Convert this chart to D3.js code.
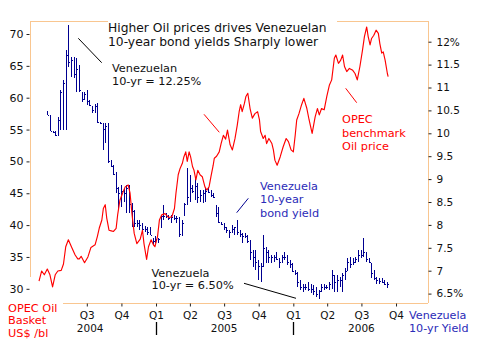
<!DOCTYPE html>
<html>
<head>
<meta charset="utf-8">
<script src="https://cdn.jsdelivr.net/npm/d3@7"></script>
<style>
  body { margin: 0; background: #fff; }
  svg text { font-family: "DejaVu Sans", Verdana, sans-serif; }
</style>
</head>
<body>
<div id="chart"></div>
<script>
// OPEC basket price, US$/bl
const oilDates = [
  "2004-02-25","2004-03-03","2004-03-10","2004-03-18","2004-03-25","2004-04-01","2004-04-08","2004-04-15","2004-04-24","2004-04-30",
  "2004-05-06","2004-05-13","2004-05-22","2004-05-31","2004-06-07","2004-06-11","2004-06-16","2004-06-25","2004-07-04","2004-07-12",
  "2004-07-23","2004-07-29","2004-08-03","2004-08-10","2004-08-14","2004-08-19","2004-08-23","2004-08-29","2004-09-04","2004-09-10",
  "2004-09-17","2004-09-21","2004-09-27","2004-10-04","2004-10-11","2004-10-19","2004-10-24","2004-10-29","2004-11-04","2004-11-11",
  "2004-11-20","2004-11-26","2004-11-30","2004-12-07","2004-12-12","2004-12-19","2004-12-25","2004-12-29","2005-01-05","2005-01-10",
  "2005-01-16","2005-01-25","2005-02-03","2005-02-12","2005-02-19","2005-02-23","2005-03-01","2005-03-06","2005-03-12","2005-03-16",
  "2005-03-21","2005-03-25","2005-03-30","2005-04-03","2005-04-08","2005-04-12","2005-04-17","2005-04-22","2005-04-28","2005-05-04",
  "2005-05-11","2005-05-16","2005-05-22","2005-05-27","2005-06-02","2005-06-05","2005-06-11","2005-06-18","2005-06-23","2005-06-29",
  "2005-07-05","2005-07-10","2005-07-17","2005-07-23","2005-07-30","2005-08-05","2005-08-10","2005-08-14","2005-08-18","2005-08-24",
  "2005-08-28","2005-09-02","2005-09-08","2005-09-14","2005-09-21","2005-09-28","2005-10-03","2005-10-06","2005-10-13","2005-10-18",
  "2005-10-22","2005-10-28","2005-11-05","2005-11-09","2005-11-13","2005-11-19","2005-11-27","2005-12-05","2005-12-13","2005-12-19",
  "2005-12-26","2006-01-01","2006-01-06","2006-01-10","2006-01-16","2006-01-23","2006-01-29","2006-02-06","2006-02-12","2006-02-20",
  "2006-02-28","2006-03-06","2006-03-11","2006-03-17","2006-03-24","2006-03-31","2006-04-07","2006-04-13","2006-04-20","2006-04-24",
  "2006-05-01","2006-05-07","2006-05-12","2006-05-17","2006-05-23","2006-05-30","2006-06-08","2006-06-14","2006-06-20","2006-06-27",
  "2006-07-04","2006-07-09","2006-07-15","2006-07-19","2006-07-24","2006-07-28","2006-08-03","2006-08-09","2006-08-15","2006-08-19",
  "2006-08-24","2006-08-28","2006-09-02","2006-09-08","2006-09-10"
];
const oilPrices = [
  31.2, 32.8, 32.2, 33.1, 32.2, 30.3, 32.2, 32.8, 32.9, 33.9,
  36.6, 37.7, 36.5, 35.3, 34.7, 34.7, 35.1, 34.1, 35.0, 36.5,
  36.9, 38.2, 39.5, 40.8, 42.6, 43.2, 41.1, 39.2, 39.1, 39.0,
  39.5, 41.6, 43.9, 45.0, 46.0, 46.3, 45.0, 41.8, 38.7, 37.1,
  37.8, 39.2, 37.1, 34.6, 36.6, 37.7, 36.9, 36.6, 38.2, 40.8,
  41.6, 41.8, 41.2, 41.3, 42.6, 45.0, 47.9, 48.9, 49.7, 50.7,
  51.5, 50.0, 51.5, 50.7, 49.2, 48.6, 47.1, 48.6, 47.9, 47.6,
  46.0, 45.5, 46.0, 47.6, 49.4, 50.5, 50.8, 51.5, 52.8, 54.1,
  53.5, 54.9, 52.6, 51.8, 53.6, 55.7, 57.8, 58.9, 57.8, 59.1,
  60.2, 60.7, 58.3, 56.8, 57.5, 57.8, 56.5, 54.7, 53.6, 54.1,
  52.8, 53.6, 52.8, 51.8, 50.2, 49.4, 50.7, 52.3, 53.6, 53.1,
  51.8, 51.5, 54.1, 56.5, 57.5, 58.9, 59.9, 58.3, 56.5, 54.4,
  57.0, 58.3, 57.3, 58.3, 58.1, 60.2, 62.0, 62.8, 66.2, 66.7,
  65.4, 65.9, 66.7, 64.9, 64.1, 64.6, 64.3, 63.8, 62.8, 64.9,
  67.5, 69.6, 71.1, 69.6, 68.3, 69.3, 69.8, 70.6, 70.1, 68.5,
  67.0, 67.2, 65.9, 63.8, 63.3
];

// Venezuela 10-yr yield, weekly bars from first week
const yieldStart = "2004-03-18";
const yieldHigh = [
  10.49, 10.40, 10.06, 10.04, 10.35, 10.95, 11.16, 11.82, 12.36, 11.67,
  11.67, 11.64, 11.50, 10.91, 10.90, 10.95, 10.73, 10.60, 10.64, 10.66,
  10.24, 10.22, 10.22, 10.22, 9.42, 9.31, 9.16, 8.83, 8.87, 8.78,
  8.87, 8.87, 8.48, 8.33, 8.11, 8.11, 8.04, 7.97, 7.96, 7.96,
  7.71, 7.76, 7.71, 8.22, 8.43, 8.26, 8.22, 8.22, 8.22, 8.19,
  8.18, 8.11, 8.48, 9.24, 9.09, 8.87, 9.05, 8.91, 8.76, 8.76,
  8.81, 8.83, 8.76, 8.70, 8.43, 8.40, 8.07, 8.04, 7.96, 7.89,
  8.00, 7.96, 8.11, 7.89, 7.82, 7.82, 7.78, 7.67, 7.45, 7.45,
  7.23, 7.17, 7.78, 7.52, 7.45, 7.34, 7.34, 7.41, 7.28, 7.34,
  7.41, 7.34, 7.23, 7.17, 7.02, 6.98, 6.80, 6.72, 6.72, 6.75,
  6.71, 6.69, 6.65, 6.58, 6.72, 6.72, 6.69, 6.76, 7.02, 6.91,
  6.91, 6.87, 6.94, 7.05, 7.28, 7.30, 7.28, 7.30, 7.45, 7.45,
  7.71, 7.41, 7.27, 7.16, 7.02, 6.87, 6.83, 6.84, 6.80, 6.76
];
const yieldLow = [
  10.40, 10.06, 10.00, 9.94, 9.96, 10.07, 10.07, 10.07, 11.45, 11.24,
  11.20, 10.91, 10.90, 10.69, 10.73, 10.62, 10.60, 10.44, 10.44, 10.22,
  10.20, 9.64, 9.79, 9.35, 9.26, 9.09, 8.70, 8.33, 8.40, 8.51,
  8.26, 8.27, 7.96, 7.96, 7.96, 7.89, 7.82, 7.84, 7.78, 7.78,
  7.56, 7.60, 7.60, 7.96, 8.11, 8.15, 8.11, 8.04, 8.11, 8.04,
  7.74, 7.76, 8.22, 8.43, 8.51, 8.70, 8.54, 8.48, 8.51, 8.48,
  8.51, 8.70, 8.62, 8.59, 8.18, 8.04, 8.00, 7.89, 7.82, 7.71,
  7.85, 7.78, 7.78, 7.74, 7.60, 7.71, 7.60, 7.23, 7.09, 7.02,
  6.80, 6.76, 7.09, 7.16, 7.16, 7.16, 7.19, 7.23, 7.06, 7.17,
  7.23, 7.12, 7.06, 6.98, 6.91, 6.65, 6.58, 6.54, 6.58, 6.55,
  6.51, 6.47, 6.43, 6.38, 6.54, 6.58, 6.60, 6.58, 6.59, 6.54,
  6.54, 6.65, 6.54, 6.80, 7.02, 7.05, 7.12, 7.20, 7.20, 7.28,
  7.30, 7.19, 7.16, 6.83, 6.80, 6.72, 6.72, 6.73, 6.69, 6.62
];
const yieldClose = [
  10.40, 10.06, 10.02, 9.96, 10.30, 10.90, 11.10, 11.70, 11.55, 11.60,
  11.30, 11.40, 10.95, 10.75, 10.85, 10.70, 10.62, 10.50, 10.60, 10.24,
  10.22, 10.10, 10.15, 9.40, 9.28, 9.12, 8.80, 8.70, 8.75, 8.70,
  8.80, 8.45, 8.30, 8.05, 8.05, 8.00, 7.90, 7.90, 7.85, 7.78,
  7.65, 7.70, 7.70, 8.20, 8.20, 8.20, 8.15, 8.18, 8.15, 8.15,
  7.80, 8.05, 8.45, 8.60, 8.80, 8.75, 8.85, 8.60, 8.65, 8.70,
  8.75, 8.72, 8.65, 8.60, 8.25, 8.06, 8.02, 7.95, 7.88, 7.85,
  7.90, 7.95, 7.85, 7.80, 7.75, 7.75, 7.65, 7.40, 7.30, 7.20,
  7.10, 7.10, 7.50, 7.40, 7.30, 7.30, 7.30, 7.25, 7.20, 7.30,
  7.30, 7.20, 7.15, 7.00, 6.95, 6.75, 6.65, 6.65, 6.65, 6.60,
  6.60, 6.55, 6.50, 6.55, 6.65, 6.65, 6.65, 6.70, 6.90, 6.75,
  6.80, 6.80, 6.90, 7.00, 7.20, 7.15, 7.20, 7.25, 7.35, 7.35,
  7.40, 7.25, 7.18, 6.95, 6.85, 6.80, 6.78, 6.76, 6.72, 6.70
];

const leftTicks = [30, 35, 40, 45, 50, 55, 60, 65, 70];
const rightTicks = [6.5, 7, 7.5, 8, 8.5, 9, 9.5, 10, 10.5, 11, 11.5, 12];
const rightTickLabels = ["6.5%", "7", "7.5", "8", "8.5", "9", "9.5", "10", "10.5", "11", "11.5", "12%"];
const quarterTicks = ["2004-07-01","2004-10-01","2005-01-01","2005-04-01","2005-07-01","2005-10-01","2006-01-01","2006-04-01","2006-07-01","2006-10-01"];
const quarterLabels = ["Q3","Q4","Q1","Q2","Q3","Q4","Q1","Q2","Q3","Q4"];
const yearLabels = ["2004", "2005", "2006"];
const yearDates = ["2004-07-10", "2005-07-01", "2006-07-01"];
const yearMarks = ["2005-01-01", "2006-01-01"];

const W = 480, H = 350;
const RED = "#ff0000", NAVY = "#000090", TXTBLUE = "#2b2bb8", FRAME = "#f9c690";
const parse = d3.timeParse("%Y-%m-%d");

const svg = d3.select("#chart").append("svg")
  .attr("width", W).attr("height", H);

const x = d3.scaleTime()
  .domain([parse("2004-02-01"), parse("2006-12-25")])
  .range([30, 428]);
const yL = d3.scaleLinear().domain([30, 70]).range([288.8, 34]);
const yR = d3.scaleLinear().domain([6.5, 12]).range([293.6, 41.7]);

// frame (peach), partly hidden behind labels
const frame = [[30, 21, 30, 277], [63, 303, 428, 303], [428, 21, 428, 303], [30, 21, 108, 21], [337, 21, 428, 21]];
svg.selectAll(".frame").data(frame).enter().append("line")
  .attr("x1", d => d[0]).attr("y1", d => d[1]).attr("x2", d => d[2]).attr("y2", d => d[3])
  .attr("stroke", FRAME).attr("stroke-width", 1).attr("shape-rendering", "crispEdges");

// axes
const leftAxis = svg.append("g").attr("transform", "translate(29.5,0)")
  .call(d3.axisLeft(yL).tickValues(leftTicks).tickSize(3).tickPadding(3));
const rightAxis = svg.append("g").attr("transform", "translate(428.5,0)")
  .call(d3.axisRight(yR).tickValues(rightTicks).tickSize(3).tickPadding(5)
    .tickFormat((d, i) => rightTickLabels[i]));
const bottomAxis = svg.append("g").attr("transform", "translate(0,303.5)")
  .call(d3.axisBottom(x).tickValues(quarterTicks.map(parse)).tickSize(3).tickPadding(5)
    .tickFormat((d, i) => quarterLabels[i]));

[leftAxis, rightAxis, bottomAxis].forEach(g => {
  g.select(".domain").remove();
  g.selectAll(".tick line").attr("stroke", "#222");
  g.selectAll("text").attr("fill", "#111").style("font-family", "DejaVu Sans").style("font-size", "10.5px");
});
leftAxis.selectAll("text").style("font-size", "11px");

svg.selectAll(".year").data(yearLabels).enter().append("text")
  .attr("x", (d, i) => x(parse(yearDates[i])))
  .attr("y", 331.5)
  .attr("text-anchor", "middle")
  .attr("fill", "#111").style("font-size", "10.5px")
  .text(d => d);

svg.selectAll(".ymark").data(yearMarks).enter().append("line")
  .attr("x1", d => Math.round(x(parse(d))) + 0.5).attr("x2", d => Math.round(x(parse(d))) + 0.5)
  .attr("y1", 322).attr("y2", 335)
  .attr("stroke", "#000").attr("stroke-width", 1.3);

// yield bars
const bars = yieldHigh.map((h, i) => ({
  date: d3.timeDay.offset(parse(yieldStart), 7 * i),
  hi: h, lo: yieldLow[i], close: yieldClose[i],
  open: i === 0 ? h : Math.max(yieldLow[i], Math.min(h, yieldClose[i - 1]))
}));
const bg = svg.append("g").attr("stroke", NAVY).attr("stroke-width", 1).attr("shape-rendering", "crispEdges");
bars.forEach(b => {
  const bx = Math.round(x(b.date)) + 0.5;
  bg.append("line").attr("x1", bx).attr("x2", bx).attr("y1", yR(b.hi)).attr("y2", yR(b.lo));
  bg.append("line").attr("x1", bx - 1).attr("x2", bx).attr("y1", Math.round(yR(b.open)) + 0.5).attr("y2", Math.round(yR(b.open)) + 0.5);
  bg.append("line").attr("x1", bx).attr("x2", bx + 1).attr("y1", Math.round(yR(b.close)) + 0.5).attr("y2", Math.round(yR(b.close)) + 0.5);
});

// oil line
const oil = oilDates.map((d, i) => ({ date: parse(d), v: oilPrices[i] }));
svg.append("path").datum(oil)
  .attr("fill", "none").attr("stroke", RED).attr("stroke-width", 1.15)
  .attr("stroke-linejoin", "round")
  .attr("d", d3.line().x(d => x(d.date)).y(d => yL(d.v)));

// annotations
function label(lines, x0, y0, color, size, lh) {
  const t = svg.append("text").attr("x", x0).attr("y", y0).attr("fill", color).style("font-size", size + "px");
  lines.forEach((s, i) => t.append("tspan").attr("x", x0).attr("y", y0 + i * lh).text(s));
}
label(["Higher Oil prices drives Venezuelan", "10-year bond yields Sharply lower"], 108, 31.5, "#111", 12.3, 14);
label(["Venezuelan", "10-yr = 12.25%"], 112, 71.5, "#111", 11.3, 13.5);
label(["OPEC", "benchmark", "Oil price"], 342, 123.3, RED, 11.3, 13.4);
label(["Venezuela", "10-year", "bond yield"], 260, 190, TXTBLUE, 11.3, 13.4);
label(["Venezuela", "10-yr = 6.50%"], 151.5, 276.5, "#111", 11.3, 12.8);
label(["OPEC Oil", "Basket", "US$ /bl"], 8, 311.5, RED, 11.3, 12.5);
label(["Venezuela", "10-yr Yield"], 409, 319, TXTBLUE, 11.2, 12.6);

const pointers = [
  [78.3, 38.3, 101.7, 62.7, "#000"],
  [204, 114.3, 219.3, 132.3, RED],
  [345.7, 88.3, 356.7, 102.7, RED],
  [236.7, 212.7, 248.3, 198.3, NAVY],
  [244, 283.3, 296, 298.3, "#000"]
];
svg.selectAll(".ptr").data(pointers).enter().append("line")
  .attr("x1", d => d[0]).attr("y1", d => d[1]).attr("x2", d => d[2]).attr("y2", d => d[3])
  .attr("stroke", d => d[4]).attr("stroke-width", 1);
</script>
</body>
</html>
